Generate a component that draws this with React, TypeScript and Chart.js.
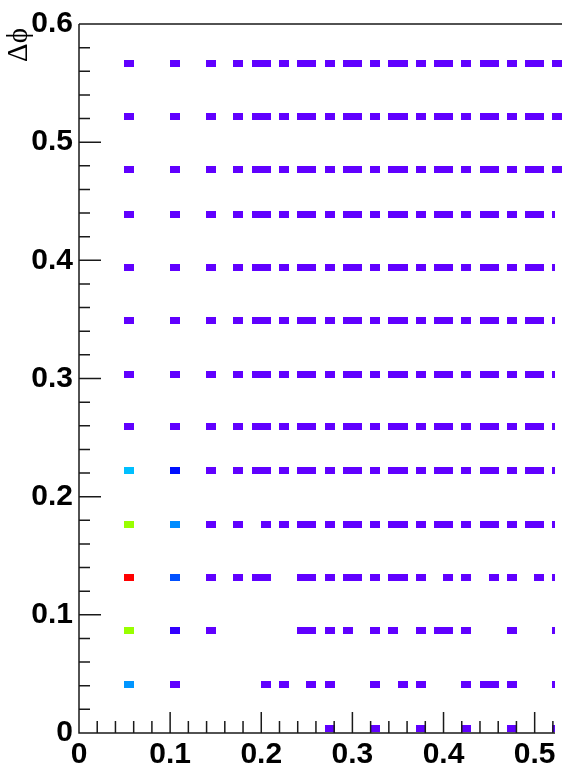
import { useEffect, useRef } from 'react';
import { Chart, registerables } from 'chart.js';

Chart.register(...registerables);

// Δφ row positions (bin centres)
const rowY = [0.5666, 0.5213, 0.4766, 0.4388, 0.3941, 0.3494, 0.3038, 0.2591, 0.2218, 0.1763, 0.1319, 0.0869, 0.0413, 0.0038];

// x bin centres filled in the densest rows
const fullRow = [0.055, 0.105, 0.145, 0.175, 0.195, 0.205, 0.225, 0.245, 0.255, 0.275, 0.295, 0.305, 0.325, 0.345, 0.355, 0.375, 0.395, 0.405, 0.425, 0.445, 0.455, 0.475, 0.495, 0.505, 0.525];
const row1763 = [0.055, 0.105, 0.145, 0.175, 0.205, 0.225, 0.245, 0.255, 0.275, 0.295, 0.305, 0.325, 0.345, 0.355, 0.375, 0.395, 0.405, 0.425, 0.445, 0.455, 0.475, 0.495, 0.505, 0.525];
const row1319 = [0.055, 0.105, 0.145, 0.175, 0.195, 0.205, 0.245, 0.255, 0.275, 0.295, 0.305, 0.325, 0.345, 0.355, 0.375, 0.405, 0.425, 0.455, 0.475, 0.505, 0.525];
const row0869 = [0.055, 0.105, 0.145, 0.245, 0.255, 0.275, 0.295, 0.325, 0.345, 0.375, 0.395, 0.405, 0.425, 0.475, 0.525];
const row0413 = [0.055, 0.105, 0.205, 0.225, 0.255, 0.275, 0.325, 0.355, 0.375, 0.425, 0.445, 0.455, 0.475, 0.525];
const row0038 = [0.275, 0.325, 0.375, 0.425, 0.475, 0.525];
const rowsX = [fullRow, fullRow, fullRow, fullRow, fullRow, fullRow, fullRow, fullRow, fullRow, row1763, row1319, row0869, row0413, row0038];

// cells with content above the minimum (all others = 1)
const hotX = [0.055, 0.105, 0.055, 0.105, 0.055, 0.105, 0.055, 0.105, 0.055];
const hotY = [0.2218, 0.2218, 0.1763, 0.1763, 0.1319, 0.1319, 0.0869, 0.0869, 0.0413];
const hotZ = [7, 3, 8, 5, 9, 4, 8, 2, 6];

// colour palette indexed by content - 1
const zPalette = ['#6000ff', '#3300ff', '#0010ff', '#0050ff', '#008cff', '#0096ff', '#00bfff', '#99ff00', '#ff0000'];

const xTickLabels = ['0', '0.1', '0.2', '0.3', '0.4', '0.5'];
const yTickLabels = ['0', '0.1', '0.2', '0.3', '0.4', '0.5', '0.6'];
const yTitle = 'Δϕ';

function boxImage(color: string) {
  const c = document.createElement('canvas');
  c.width = 10;
  c.height = 7;
  const g = c.getContext('2d')!;
  g.fillStyle = color;
  g.fillRect(0, 0, 10, 7);
  return c;
}

const frameLinePlugin = {
  id: 'rootFrame',
  afterDraw(chart: any) {
    const { ctx, chartArea } = chart;
    const xs = chart.scales.x;
    const ys = chart.scales.y;
    const { left, right, top, bottom } = chartArea;
    ctx.save();
    ctx.strokeStyle = '#1a1a1a';
    ctx.lineWidth = 1.5;
    ctx.beginPath();
    // frame
    ctx.moveTo(left, top);
    ctx.lineTo(right, top);
    ctx.moveTo(left, top);
    ctx.lineTo(left, bottom);
    ctx.lineTo(right, bottom);
    // x ticks (inside)
    for (let i = 0; i <= 26; i++) {
      const v = i * 0.02;
      const px = xs.getPixelForValue(v);
      if (px > right) break;
      const len = i % 5 === 0 ? 21 : 12;
      ctx.moveTo(px, bottom);
      ctx.lineTo(px, bottom - len);
    }
    // y ticks (inside)
    for (let i = 0; i <= 30; i++) {
      const v = i * 0.02;
      const py = ys.getPixelForValue(v);
      const len = i % 5 === 0 ? 22 : 11;
      ctx.moveTo(left, py);
      ctx.lineTo(left + len, py);
    }
    ctx.stroke();
    // white pad covering the right edge below the upper rows
    ctx.fillStyle = '#ffffff';
    ctx.fillRect(right - 7, 192, 20, chart.height - 192);
    // axis title
    ctx.fillStyle = '#000';
    ctx.font = '29px "Liberation Serif", "Times New Roman", "DejaVu Serif", serif';
    ctx.textAlign = 'right';
    ctx.textBaseline = 'alphabetic';
    ctx.translate(27, 28);
    ctx.rotate(-Math.PI / 2);
    ctx.fillText(yTitle, 0, 0);
    ctx.restore();
  },
};

export default function App() {
  const ref = useRef<HTMLCanvasElement>(null);
  useEffect(() => {
    if (!ref.current) return;
    const groups: Record<number, { x: number; y: number }[]> = {};
    rowY.forEach((y, r) => {
      rowsX[r].forEach((x) => {
        let z = 1;
        for (let k = 0; k < hotX.length; k++) {
          if (hotX[k] === x && hotY[k] === y) z = hotZ[k];
        }
        (groups[z] = groups[z] || []).push({ x, y });
      });
    });
    const datasets = Object.keys(groups).map((k) => {
      const z = Number(k);
      return {
        label: 'z' + z,
        data: groups[z],
        pointStyle: boxImage(zPalette[z - 1]) as any,
        pointRadius: 5,
        pointHoverRadius: 5,
        showLine: false,
      };
    });
    const tickFont = { family: '"Liberation Sans", Arial, sans-serif', size: 30, weight: 'bold' as const };
    const chart = new Chart(ref.current, {
      type: 'scatter',
      data: { datasets },
      plugins: [frameLinePlugin],
      options: {
        animation: false,
        responsive: false,
        maintainAspectRatio: false,
        events: [],
        layout: { padding: { top: 24, left: 0, right: 0, bottom: 0 } },
        plugins: { legend: { display: false }, tooltip: { enabled: false } },
        scales: {
          x: {
            type: 'linear',
            min: 0,
            max: 0.53,
            border: { display: false },
            grid: { display: false, drawTicks: false },
            ticks: {
              stepSize: 0.1,
              includeBounds: false,
              autoSkip: false,
              maxRotation: 0,
              padding: 4,
              color: '#000',
              font: tickFont,
              callback: (_v: any, i: number) => xTickLabels[i],
            },
            afterFit: (s: any) => { s.height = 31; },
          },
          y: {
            type: 'linear',
            min: 0,
            max: 0.6,
            border: { display: false },
            grid: { display: false, drawTicks: false },
            ticks: {
              stepSize: 0.1,
              autoSkip: false,
              padding: 6,
              color: '#000',
              font: tickFont,
              callback: (_v: any, i: number) => yTickLabels[i],
            },
            afterFit: (s: any) => { s.width = 79; },
          },
        },
      },
    });
    return () => chart.destroy();
  }, []);
  return (
    <div style={{ position: 'absolute', left: 0, top: 0, width: 568, height: 764, overflow: 'hidden', background: '#fff' }}>
      <canvas ref={ref} width={568} height={764} style={{ display: 'block', width: 568, height: 764 }} />
    </div>
  );
}
